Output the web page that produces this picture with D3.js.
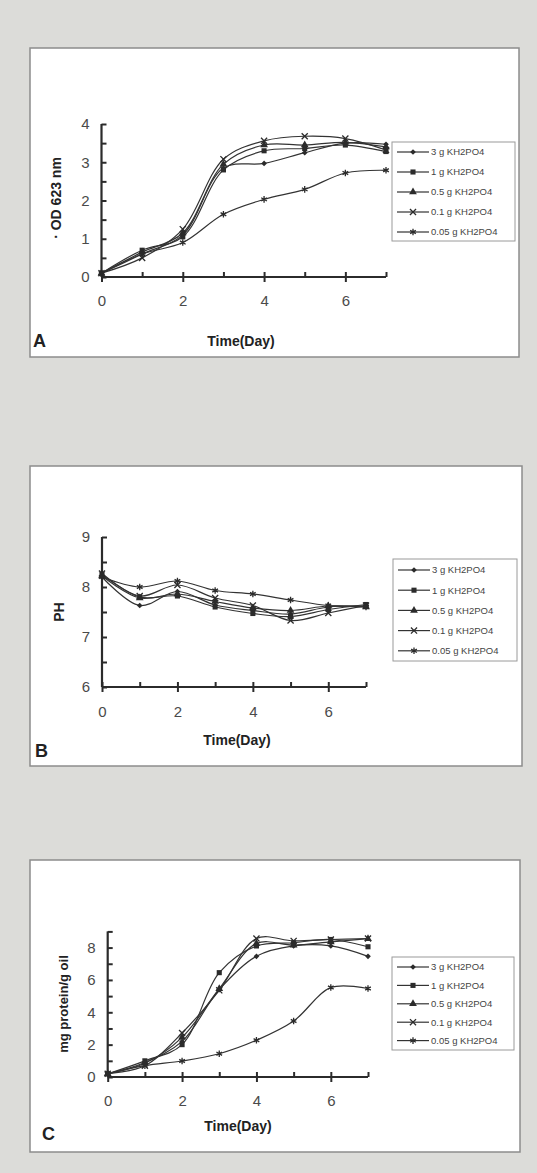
<!DOCTYPE html>
<meta charset="utf-8">
<style>
body { margin: 0; background: #dcdcd9; }
svg { display: block; font-family: "Liberation Sans", Arial, sans-serif; }
.axis path, .axis line { stroke: #2b2b2b; }
.axis text { fill: #4a4a4a; font-size: 15px; }
.title { fill: #222; font-weight: bold; }
.legend text { font-size: 9.5px; fill: #444; }
</style>
<script src="https://d3js.org/d3.v7.min.js"></script>
<svg width="537" height="1173"></svg>
<script>

var days = [0, 1, 2, 3, 4, 5, 6, 7];
var seriesNames = ["3 g KH2PO4", "1 g KH2PO4", "0.5 g KH2PO4", "0.1 g KH2PO4", "0.05 g KH2PO4"];

// A: OD 623 nm
var od3g   = [0.1, 0.60, 1.10, 2.85, 2.97, 3.25, 3.50, 3.47];
var od1g   = [0.1, 0.70, 1.05, 2.80, 3.30, 3.36, 3.45, 3.28];
var od05g  = [0.1, 0.65, 1.15, 2.95, 3.45, 3.45, 3.52, 3.40];
var od01g  = [0.1, 0.50, 1.25, 3.08, 3.56, 3.68, 3.62, 3.32];
var od005g = [0.1, 0.60, 0.90, 1.64, 2.03, 2.29, 2.72, 2.79];

// B: pH
var ph3g   = [8.20, 7.63, 7.91, 7.64, 7.53, 7.46, 7.60, 7.62];
var ph1g   = [8.25, 7.80, 7.82, 7.60, 7.47, 7.41, 7.55, 7.65];
var ph05g  = [8.22, 7.78, 7.86, 7.71, 7.58, 7.53, 7.62, 7.60];
var ph01g  = [8.27, 7.82, 8.04, 7.78, 7.63, 7.33, 7.48, 7.63];
var ph005g = [8.20, 8.00, 8.12, 7.93, 7.86, 7.74, 7.63, 7.60];

// C: mg protein / g oil
var pr3g   = [0.2, 0.90, 2.20, 5.40, 7.46, 8.10, 8.10, 7.46];
var pr1g   = [0.2, 1.00, 2.00, 6.45, 8.10, 8.30, 8.50, 8.05];
var pr05g  = [0.2, 0.85, 2.45, 5.46, 8.25, 8.15, 8.35, 8.55];
var pr01g  = [0.2, 0.70, 2.72, 5.36, 8.56, 8.41, 8.50, 8.56];
var pr005g = [0.2, 0.70, 0.99, 1.44, 2.27, 3.46, 5.53, 5.47];

var xMajor = [0, 2, 4, 6];
var xMinor = [1, 3, 5, 7];

var svg = d3.select("svg");

svg.append("rect").attr("width", 537).attr("height", 1173).attr("fill", "#dcdcd9");

var markers = [d3.symbolSquare, d3.symbolSquare, d3.symbolTriangle, d3.symbolTimes, d3.symbolAsterisk];
var markerSize = [16, 26, 26, 26, 30];
var markerRot = [45, 0, 0, 0, 0];
var filled = [true, true, true, false, false];

function marker(sel, i) {
    sel.attr("d", d3.symbol().type(markers[i]).size(markerSize[i]))
        .attr("fill", filled[i] ? "#2b2b2b" : "none")
        .attr("stroke", "#2b2b2b")
        .attr("stroke-width", filled[i] ? 0 : 1.3);
}

function panel(p) {
    var g = svg.append("g");

    g.append("rect")
        .attr("x", p.box[0]).attr("y", p.box[1])
        .attr("width", p.box[2] - p.box[0]).attr("height", p.box[3] - p.box[1])
        .attr("fill", "#fff").attr("stroke", "#8c8c8c").attr("stroke-width", 1.5);

    var x = d3.scaleLinear().domain([0, 7]).range(p.xr);
    var y = d3.scaleLinear().domain(p.yd).range(p.yr);

    // y axis, major ticks cross the line, minor ticks point inward
    var ya = g.append("g").attr("class", "axis")
        .attr("transform", "translate(" + x(0) + ",0)")
        .call(d3.axisLeft(y).tickValues(p.yMajor).tickFormat(d3.format("d")).tickSize(5).tickPadding(7));
    ya.selectAll(".tick line").attr("x2", 5).attr("stroke-width", 2);
    g.append("g").attr("class", "axis")
        .attr("transform", "translate(" + x(0) + ",0)")
        .call(d3.axisRight(y).tickValues(p.yMinor).tickSize(5).tickFormat(""))
        .call(function(s) { s.select(".domain").remove(); s.selectAll("line").attr("stroke-width", 2); });

    var xa = g.append("g").attr("class", "axis")
        .attr("transform", "translate(0," + y(p.yd[0]) + ")")
        .call(d3.axisBottom(x).tickValues(xMajor).tickFormat(d3.format("d")).tickSize(5).tickPadding(p.xPad));
    xa.selectAll(".tick line").attr("y2", -5).attr("y1", 5).attr("stroke-width", 2);
    g.append("g").attr("class", "axis")
        .attr("transform", "translate(0," + y(p.yd[0]) + ")")
        .call(d3.axisTop(x).tickValues(xMinor).tickSize(5).tickFormat(""))
        .call(function(s) { s.select(".domain").remove(); s.selectAll("line").attr("stroke-width", 2); });
    ya.select(".domain").attr("d", "M0," + y(p.yd[0]) + "V" + y(p.yd[1])).attr("stroke-width", 2.2);
    xa.select(".domain").attr("d", "M" + x(0) + ",0H" + x(7)).attr("stroke-width", 2.2);

    var line = d3.line()
        .x(function(d, i) { return x(days[i]); })
        .y(function(d) { return y(d); })
        .curve(d3.curveCatmullRom.alpha(0.5));

    p.series.forEach(function(vals, i) {
        g.append("path").attr("d", line(vals))
            .attr("fill", "none").attr("stroke", "#333").attr("stroke-width", 1.2);
        g.selectAll(null).data(vals).enter().append("path")
            .attr("transform", function(d, j) {
                return "translate(" + x(days[j]) + "," + y(d) + ") rotate(" + markerRot[i] + ")";
            })
            .call(marker, i);
    });

    // legend
    var lg = g.append("g").attr("class", "legend");
    lg.append("rect")
        .attr("x", p.leg[0]).attr("y", p.leg[1])
        .attr("width", p.leg[2] - p.leg[0]).attr("height", p.leg[3] - p.leg[1])
        .attr("fill", "#fff").attr("stroke", "#9a9a9a").attr("stroke-width", 1);
    seriesNames.forEach(function(name, i) {
        var ly = p.leg[1] + p.legTop + i * p.legStep;
        var lx = p.leg[0] + 5;
        lg.append("line").attr("x1", lx).attr("x2", lx + 32).attr("y1", ly).attr("y2", ly)
            .attr("stroke", "#333").attr("stroke-width", 1.2);
        lg.append("path")
            .attr("transform", "translate(" + (lx + 16) + "," + ly + ") rotate(" + markerRot[i] + ")")
            .call(marker, i);
        lg.append("text").attr("x", lx + 34).attr("y", ly).attr("dy", "0.35em").text(name);
    });

    // titles
    g.append("text").attr("class", "title")
        .attr("transform", "translate(" + p.yt[0] + "," + p.yt[1] + ") rotate(-90)")
        .attr("text-anchor", "middle").attr("dy", "0.35em")
        .attr("font-size", p.ytSize).text(p.ytitle);
    g.append("text").attr("class", "title")
        .attr("x", p.xt[0]).attr("y", p.xt[1]).attr("text-anchor", "middle")
        .attr("font-size", 14).text("Time(Day)");
    g.append("text").attr("class", "title")
        .attr("x", p.lab[0]).attr("y", p.lab[1])
        .attr("font-size", 18).text(p.label);
}

panel({
    box: [30, 48, 519, 357],
    xr: [101.5, 386], yd: [0, 4], yr: [277, 124],
    yMajor: [0, 1, 2, 3, 4], yMinor: [0.5, 1.5, 2.5, 3.5],
    xPad: 13,
    series: [od3g, od1g, od05g, od01g, od005g],
    leg: [392, 142, 515, 241], legTop: 10, legStep: 20,
    yt: [56, 198], ytitle: "· OD 623 nm", ytSize: 14,
    xt: [241, 346], lab: [33, 347], label: "A"
});

panel({
    box: [30, 466, 522, 766],
    xr: [102, 366], yd: [6, 9], yr: [687, 537],
    yMajor: [6, 7, 8, 9], yMinor: [6.5, 7.5, 8.5],
    xPad: 14,
    series: [ph3g, ph1g, ph05g, ph01g, ph005g],
    leg: [393, 559, 517, 661], legTop: 11, legStep: 20.2,
    yt: [59, 612], ytitle: "PH", ytSize: 14,
    xt: [237, 745], lab: [35, 757], label: "B"
});

panel({
    box: [30, 860, 520, 1152],
    xr: [107.7, 368], yd: [0, 9], yr: [1077, 931.4],
    yMajor: [0, 2, 4, 6, 8], yMinor: [1, 3, 5, 7, 9],
    xPad: 13,
    series: [pr3g, pr1g, pr05g, pr01g, pr005g],
    leg: [392, 957, 514, 1050], legTop: 10, legStep: 18.4,
    yt: [63, 1004], ytitle: "mg protein/g oil", ytSize: 13,
    xt: [238, 1131], lab: [42, 1140], label: "C"
});

</script>
